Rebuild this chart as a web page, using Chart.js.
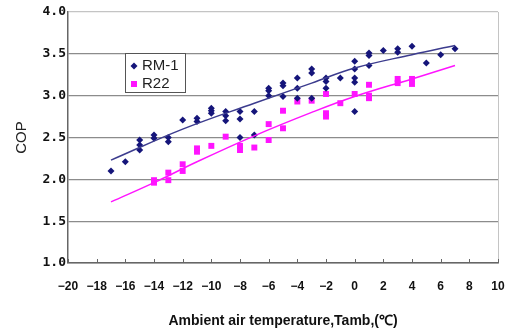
<!DOCTYPE html>
<html>
<head>
<meta charset="utf-8">
<script src="https://cdn.jsdelivr.net/npm/chart.js@4/dist/chart.umd.min.js"></script>
<style>
  html, body { margin: 0; padding: 0; background: #fff; }
  #wrap { width: 510px; height: 331px; }
</style>
</head>
<body>
<div id="wrap"><canvas id="copChart"></canvas></div>
<script>
// measured points, RM-1
const rm1Temp = [-17, -16, -15, -15, -15, -14, -14, -13, -13, -12, -11, -11, -10, -10, -10, -9, -9, -9,
    -8, -8, -8, -7, -7, -6, -6, -6, -5, -5, -5, -4, -4, -4, -3, -3, -3, -2, -2, -2, -1,
    0, 0, 0, 0, 0, 1, 1, 1, 2, 3, 3, 4, 5, 6, 7];
const rm1Cop = [2.10, 2.21, 2.47, 2.41, 2.35, 2.53, 2.49, 2.50, 2.45, 2.71, 2.73, 2.69, 2.85, 2.82, 2.79, 2.81, 2.76, 2.70,
    2.81, 2.72, 2.50, 2.81, 2.53, 3.09, 3.06, 3.00, 3.15, 3.12, 2.99, 3.21, 3.09, 2.97, 3.32, 3.27, 2.97, 3.21, 3.17, 3.09, 3.21,
    3.41, 3.32, 3.21, 3.16, 2.81, 3.51, 3.48, 3.36, 3.54, 3.56, 3.52, 3.59, 3.39, 3.49, 3.56];

// measured points, R22
const r22Temp = [-14, -14, -13, -13, -12, -12, -11, -11, -10, -9, -8, -8, -7, -6, -6, -5, -5, -4, -3,
    -2, -2, -2, -1, 0, 1, 1, 1, 3, 3, 4, 4];
const r22Cop = [1.99, 1.96, 2.08, 1.99, 2.18, 2.10, 2.37, 2.33, 2.40, 2.51, 2.40, 2.35, 2.38, 2.66, 2.47, 2.82, 2.61, 2.93, 2.94,
    3.02, 2.79, 2.75, 2.91, 3.02, 3.13, 3.00, 2.97, 3.20, 3.15, 3.20, 3.14];

// trend curves
const rm1TrendTemp = [-17, -12, -7, -3, 0, 4, 7];
const rm1TrendCop = [2.23, 2.60, 2.91, 3.15, 3.33, 3.49, 3.60];
const r22TrendTemp = [-17, -14, -11, -7, -3, 0, 4, 7];
const r22TrendCop = [1.73, 1.96, 2.21, 2.52, 2.80, 2.99, 3.20, 3.36];

const xTicks = [-20, -18, -16, -14, -12, -10, -8, -6, -4, -2, 0, 2, 4, 6, 8, 10];
const seriesNames = ['RM-1', 'R22'];

function pairs(xs, ys) {
    return xs.map(function (x, i) { return { x: x, y: ys[i] }; });
}

const navy = '#15157a';
const navyLine = '#3c3c8e';
const pink = '#ff14ff';

const overlay = {
    id: 'overlay',
    afterDraw(chart) {
        const { ctx, chartArea, scales } = chart;
        ctx.save();
        // small tick marks on the x axis, pointing inward
        ctx.strokeStyle = '#666';
        ctx.lineWidth = 1;
        xTicks.forEach(function (v) {
            const x = Math.round(scales.x.getPixelForValue(v)) + 0.5;
            ctx.beginPath();
            ctx.moveTo(x, chartArea.bottom);
            ctx.lineTo(x, chartArea.bottom - 4);
            ctx.stroke();
        });

        // legend box inside the plot
        const bx = chartArea.left + 57, by = chartArea.top + 41;
        ctx.fillStyle = '#fff';
        ctx.fillRect(bx, by, 60, 39);
        ctx.strokeStyle = '#555';
        ctx.strokeRect(bx + 0.5, by + 0.5, 60, 39);

        ctx.font = '15px "Liberation Sans", Arial, sans-serif';
        ctx.textBaseline = 'middle';
        ctx.textAlign = 'left';

        // RM-1 diamond
        const y1 = by + 13;
        ctx.fillStyle = navy;
        ctx.beginPath();
        ctx.moveTo(bx + 9, y1 - 3.5);
        ctx.lineTo(bx + 12.5, y1);
        ctx.lineTo(bx + 9, y1 + 3.5);
        ctx.lineTo(bx + 5.5, y1);
        ctx.closePath();
        ctx.fill();
        ctx.fillStyle = '#222';
        ctx.fillText(seriesNames[0], bx + 17, y1);

        // R22 square
        const y2 = by + 31;
        ctx.fillStyle = pink;
        ctx.fillRect(bx + 6, y2 - 3, 6, 6);
        ctx.fillStyle = '#222';
        ctx.fillText(seriesNames[1], bx + 17, y2);
        ctx.restore();
    }
};

new Chart(document.getElementById('copChart'), {
    type: 'scatter',
    data: {
        datasets: [{
            label: seriesNames[0],
            data: pairs(rm1Temp, rm1Cop),
            pointStyle: 'rectRot',
            pointRadius: 3.5,
            backgroundColor: navy,
            borderColor: navy,
            borderWidth: 0,
            order: 1
        }, {
            label: seriesNames[1],
            data: pairs(r22Temp, r22Cop),
            pointStyle: 'rect',
            pointRadius: 4.2,
            backgroundColor: pink,
            borderColor: pink,
            borderWidth: 0,
            order: 2
        }, {
            label: 'RM-1 trend',
            data: pairs(rm1TrendTemp, rm1TrendCop),
            showLine: true,
            pointRadius: 0,
            borderColor: navyLine,
            borderWidth: 1.5,
            tension: 0.4,
            order: 0
        }, {
            label: 'R22 trend',
            data: pairs(r22TrendTemp, r22TrendCop),
            showLine: true,
            pointRadius: 0,
            borderColor: pink,
            borderWidth: 1.5,
            tension: 0.4,
            order: 0
        }]
    },
    options: {
        responsive: true,
        maintainAspectRatio: false,
        animation: false,
        layout: { padding: { left: 0, right: 12, top: 12, bottom: 0 } },
        plugins: {
            legend: { display: false },
            tooltip: { enabled: false }
        },
        scales: {
            x: {
                type: 'linear',
                min: -20,
                max: 10,
                afterFit: function (s) {
                    s.height = 68;
                    s.paddingLeft = 0;
                    s.paddingRight = 0;
                },
                afterBuildTicks: function (s) { s.ticks = xTicks.map(function (v) { return { value: v }; }); },
                ticks: {
                    padding: 16,
                    maxRotation: 0,
                    autoSkip: false,
                    color: '#111',
                    font: { family: '"Liberation Sans", Arial, sans-serif', size: 12, weight: 'bold' },
                    callback: function (v) { return v < 0 ? '\u2212' + Math.abs(v) : String(v); }
                },
                grid: {
                    drawTicks: false,
                    color: function (c) { return c.tick && c.tick.value === 10 ? '#c4c4c4' : 'rgba(0,0,0,0)'; }
                },
                border: { color: '#666', width: 1.5 },
                title: {
                    display: true,
                    text: 'Ambient air temperature,Tamb,(\u2103)',
                    color: '#111',
                    font: { family: '"Liberation Sans", Arial, sans-serif', size: 14, weight: 'bold' },
                    padding: { top: 0, bottom: 1 }
                }
            },
            y: {
                min: 1,
                max: 4,
                afterFit: function (s) { s.width = 68; },
                ticks: {
                    stepSize: 0.5,
                    padding: 2,
                    color: '#111',
                    font: { family: '"DejaVu Sans Mono", monospace', size: 13, weight: 'bold' },
                    callback: function (v) { return Number(v).toFixed(1); }
                },
                grid: {
                    drawTicks: false,
                    lineWidth: 1.2,
                    color: function (c) { return c.tick && c.tick.value === 4 ? '#c4c4c4' : '#8c8c8c'; }
                },
                border: { color: '#666', width: 1.5 },
                title: {
                    display: true,
                    text: 'COP',
                    color: '#222',
                    font: { family: '"Liberation Sans", Arial, sans-serif', size: 15 },
                    padding: { top: 13, bottom: 0 }
                }
            }
        }
    },
    plugins: [overlay]
});
</script>
</body>
</html>
